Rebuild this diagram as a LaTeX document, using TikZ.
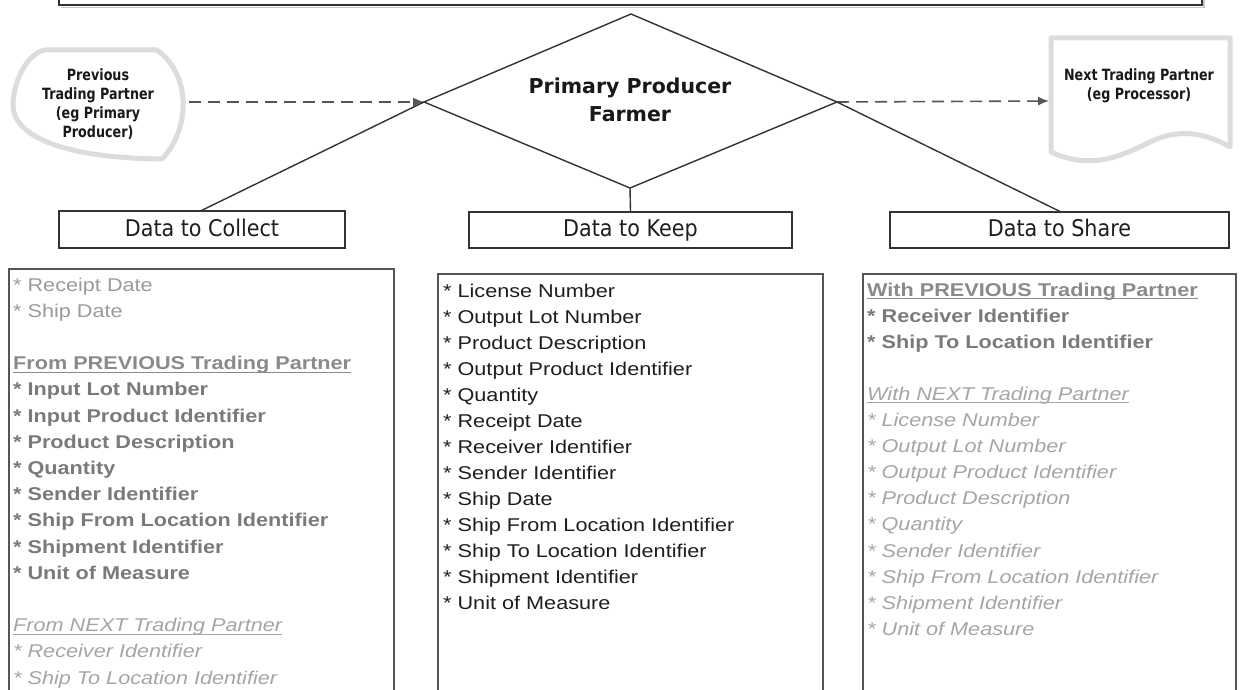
\documentclass[tikz,border=0pt]{standalone}
\usepackage{fontspec}
\setmainfont{Liberation Sans}
\newfontfamily\listfont[FakeStretch=1.17]{Liberation Sans}
\newfontfamily\labfont[FakeStretch=0.9]{DejaVu Sans}
\newfontfamily\partfont[FakeStretch=0.82]{DejaVu Sans}
\newfontfamily\titfont{DejaVu Sans}
\usetikzlibrary{arrows.meta}
\definecolor{linec}{HTML}{333333}
\definecolor{dashc}{HTML}{555555}
\definecolor{shapec}{HTML}{DCDCDC}
\definecolor{regc}{HTML}{9A9A9A}
\definecolor{boldc}{HTML}{7A7A7A}
\definecolor{headc}{HTML}{8A8A8A}
\definecolor{italc}{HTML}{A5A5A5}
\definecolor{midc}{HTML}{1E1E1E}
\newcommand\myul[1]{\setbox0\hbox{#1}\rlap{\rule[-3pt]{\wd0}{1.1pt}}\box0}
\begin{document}
\begin{tikzpicture}[x=1pt,y=-1pt,
  boxline/.style={draw=linec,line width=1.5pt},
  labelbox/.style={boxline,fill=white,inner sep=0pt,text height=17pt,text depth=4pt,text=midc,font=\labfont\fontsize{23}{26}\selectfont},
  partner/.style={align=center,inner sep=0pt,text=black!90,font=\partfont\bfseries\fontsize{15.5}{19}\selectfont},
  pshape/.style={draw=shapec,line width=5pt,line join=round},
  dashedarrow/.style={draw=dashc,line width=1.6pt,dash pattern=on 12pt off 7pt,-{Latex[length=11pt,width=9pt]}},
  conn/.style={draw=linec,line width=1.4pt},
  listbox/.style={draw=dashc,line width=1.5pt},
  li/.style={anchor=base west,inner sep=0pt,font=\listfont\fontsize{18.5}{22}\selectfont},
  reg/.style={li,text=regc},
  bld/.style={li,text=boldc,font=\listfont\bfseries\fontsize{18.5}{22}\selectfont},
  hd/.style={li,text=headc,font=\listfont\bfseries\fontsize{18.5}{22}\selectfont},
  itl/.style={li,text=italc,font=\listfont\itshape\fontsize{18.5}{22}\selectfont},
  mid/.style={li,text=midc}]
\useasboundingbox (0,0) rectangle (1242,690);
\clip (0,0) rectangle (1242,690);
% top box
\draw[gray!45,line width=1.5pt] (61,7.5) -- (1204,7.5) -- (1204,-10);
\draw[boxline,fill=white] (59,-10) rectangle (1202,5);
% diamond
\coordinate (dT) at (631,14);
\coordinate (dL) at (424,102);
\coordinate (dR) at (837,102);
\coordinate (dB) at (630,188);
\draw[conn,line join=miter] (dT) -- (dR) -- (dB) -- (dL) -- cycle;
\node[align=center,inner sep=0pt,text=black!90,font=\titfont\bfseries\fontsize{20.5}{28}\selectfont] (prod) at (630,100) {Primary Producer\\Farmer};
% previous partner shape
\draw[pshape] (157,50) -- (45,50) .. controls (25,54) and (13,85) .. (13,105)
   .. controls (13,135) and (60,158) .. (162,159) .. controls (190,130) and (192,75) .. cycle;
\node[partner] (prev) at (98,104) {Previous\\Trading Partner\\(eg Primary\\Producer)};
\coordinate (prevE) at (189,102);
% next partner shape
\draw[pshape] (1051,38) -- (1230,38) -- (1230,147)
   .. controls (1200,130) and (1175,130) .. (1150,142)
   .. controls (1120,157) and (1090,170) .. (1051,152) -- cycle;
\node[partner] (next) at (1139,86) {Next Trading Partner\\(eg Processor)};
\coordinate (nextW) at (1049,101);
% dashed arrows
\draw[dashedarrow] (prevE) -- (dL);
\draw[dashedarrow] (dR) -- (nextW);
% label boxes
\node[labelbox,minimum width=286pt,minimum height=37pt] (collect) at (202,229.5) {Data to Collect};
\node[labelbox,minimum width=323pt,minimum height=36pt] (keep) at (630.5,230) {Data to Keep};
\node[labelbox,minimum width=339pt,minimum height=36pt] (share) at (1059.5,230) {Data to Share};
\draw[conn] (collect.north) -- (dL);
\draw[conn] (keep.north) -- (dB);
\draw[conn] (share.north) -- (dR);
% list boxes
\draw[listbox] (9,269) rectangle (394,700);
\draw[listbox] (438,274) rectangle (823,700);
\draw[listbox] (863,274) rectangle (1236,700);
% left list
\node[reg] (c1) at (13,291) {* Receipt Date};
\node[reg] (c2) at (13,317.2) {* Ship Date};
\node[hd]  (c3) at (13,369.6) {\myul{From PREVIOUS Trading Partner}};
\node[bld] (c4) at (13,395.8) {* Input Lot Number};
\node[bld] (c5) at (13,422) {* Input Product Identifier};
\node[bld] (c6) at (13,448.2) {* Product Description};
\node[bld] (c7) at (13,474.4) {* Quantity};
\node[bld] (c8) at (13,500.6) {* Sender Identifier};
\node[bld] (c9) at (13,526.8) {* Ship From Location Identifier};
\node[bld] (c10) at (13,553) {* Shipment Identifier};
\node[bld] (c11) at (13,579.2) {* Unit of Measure};
\node[itl] (c12) at (13,631.6) {\myul{From NEXT Trading Partner}};
\node[itl] (c13) at (13,657.8) {* Receiver Identifier};
\node[itl] (c14) at (13,684) {* Ship To Location Identifier};
% middle list
\node[mid] (k1) at (443,297) {* License Number};
\node[mid] (k2) at (443,323) {* Output Lot Number};
\node[mid] (k3) at (443,349) {* Product Description};
\node[mid] (k4) at (443,375) {* Output Product Identifier};
\node[mid] (k5) at (443,401) {* Quantity};
\node[mid] (k6) at (443,427) {* Receipt Date};
\node[mid] (k7) at (443,453) {* Receiver Identifier};
\node[mid] (k8) at (443,479) {* Sender Identifier};
\node[mid] (k9) at (443,505) {* Ship Date};
\node[mid] (k10) at (443,531) {* Ship From Location Identifier};
\node[mid] (k11) at (443,557) {* Ship To Location Identifier};
\node[mid] (k12) at (443,583) {* Shipment Identifier};
\node[mid] (k13) at (443,609) {* Unit of Measure};
% right list
\node[hd]  (s1) at (867,296) {\myul{With PREVIOUS Trading Partner}};
\node[bld] (s2) at (867,322.1) {* Receiver Identifier};
\node[bld] (s3) at (867,348.2) {* Ship To Location Identifier};
\node[itl] (s4) at (867,400.4) {\myul{With NEXT Trading Partner}};
\node[itl] (s5) at (867,426.5) {* License Number};
\node[itl] (s6) at (867,452.6) {* Output Lot Number};
\node[itl] (s7) at (867,478.7) {* Output Product Identifier};
\node[itl] (s8) at (867,504.8) {* Product Description};
\node[itl] (s9) at (867,530.9) {* Quantity};
\node[itl] (s10) at (867,557) {* Sender Identifier};
\node[itl] (s11) at (867,583.1) {* Ship From Location Identifier};
\node[itl] (s12) at (867,609.2) {* Shipment Identifier};
\node[itl] (s13) at (867,635.3) {* Unit of Measure};
\end{tikzpicture}
\end{document}
